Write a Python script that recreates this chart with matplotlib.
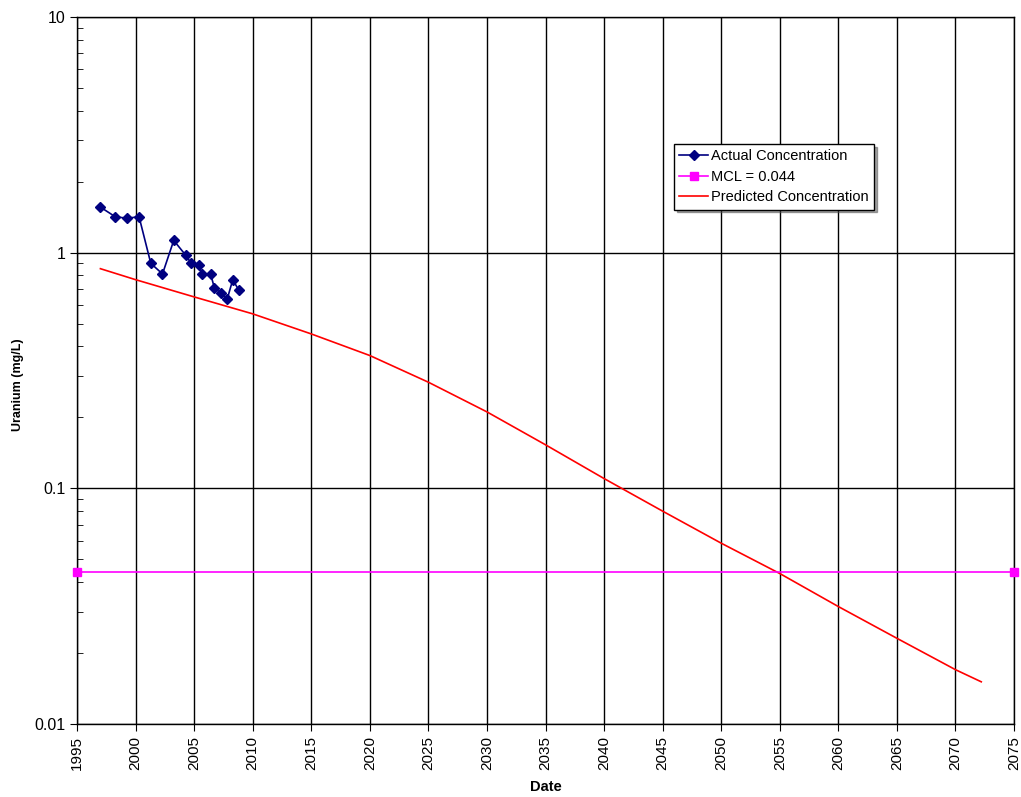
import matplotlib
matplotlib.use("Agg")
import matplotlib.pyplot as plt
from matplotlib.ticker import FixedLocator, FixedFormatter, LogLocator, NullFormatter

plt.rcParams['font.family'] = ['Liberation Sans', 'DejaVu Sans']

actual_years = [1997.0, 1998.27, 1999.27, 2000.3, 2001.3, 2002.3, 2003.26, 2004.29, 2004.71,
                2005.4, 2005.7, 2006.4, 2006.74, 2007.33, 2007.82, 2008.3, 2008.8]
actual_vals = [1.56, 1.42, 1.40, 1.42, 0.901, 0.812, 1.127, 0.974, 0.907,
               0.884, 0.812, 0.814, 0.706, 0.673, 0.634, 0.768, 0.695]

mcl_years = [1995, 2075]
mcl_vals = [0.044, 0.044]

pred_years = [1997, 2000, 2005, 2010, 2015, 2020, 2025, 2030, 2035, 2040, 2045,
              2050, 2055, 2060, 2065, 2070, 2072.2]
pred_vals = [0.855, 0.768, 0.649, 0.55, 0.452, 0.366, 0.282, 0.211, 0.153, 0.110, 0.080,
             0.0585, 0.0435, 0.0315, 0.0231, 0.0170, 0.0151]

x_ticks = list(range(1995, 2076, 5))
y_ticks = [0.01, 0.1, 1, 10]
y_labels = ['0.01', '0.1', '1', '10']

fig = plt.figure(figsize=(10.21, 7.97), dpi=100)
ax = fig.add_axes([0.0754, 0.0916, 0.9178, 0.8871])

ax.set_yscale('log')
ax.set_xlim(1995, 2075)
ax.set_ylim(0.01, 10)

ax.plot(actual_years, actual_vals, color='#000080', marker='D', markersize=5.5, lw=1.2,
        label='Actual Concentration', zorder=4)
ax.plot(mcl_years, mcl_vals, color='#FF00FF', marker='s', markersize=6, lw=1.2,
        label='MCL = 0.044', clip_on=False, zorder=4)
ax.plot(pred_years, pred_vals, color='#FF0000', lw=1.2, label='Predicted Concentration', zorder=3)

ax.xaxis.set_major_locator(FixedLocator(x_ticks))
ax.set_xticklabels([str(t) for t in x_ticks], rotation=90, fontsize=11)
ax.yaxis.set_major_locator(FixedLocator(y_ticks))
ax.yaxis.set_major_formatter(FixedFormatter(y_labels))
ax.yaxis.set_minor_locator(LogLocator(base=10, subs=range(2, 10)))
ax.yaxis.set_minor_formatter(NullFormatter())
ax.tick_params(axis='y', which='major', direction='out', length=5, labelsize=11.5, color='black')
ax.tick_params(axis='y', which='minor', direction='in', length=4, color='black')
ax.tick_params(axis='x', which='major', direction='out', length=5, color='black')

ax.grid(True, which='major', axis='both', color='black', lw=1)
ax.set_axisbelow(True)
for s in ax.spines.values():
    s.set_color('black')
    s.set_linewidth(1)

ax.set_xlabel('Date', fontsize=10.5, fontweight='bold')
ax.xaxis.set_label_coords(0.5, -0.079)
ax.set_ylabel('Uranium (mg/L)', fontsize=9, fontweight='bold')
ax.yaxis.set_label_coords(-0.057, 0.48)

leg = ax.legend(loc='upper left', bbox_to_anchor=(0.637, 0.82), fontsize=10.5, frameon=True,
                fancybox=False, shadow=True, edgecolor='black', borderpad=0.35,
                labelspacing=0.45, handlelength=2.0, handletextpad=0.2, borderaxespad=0)
leg.get_frame().set_linewidth(1)

fig.savefig('out.png', dpi=100)
